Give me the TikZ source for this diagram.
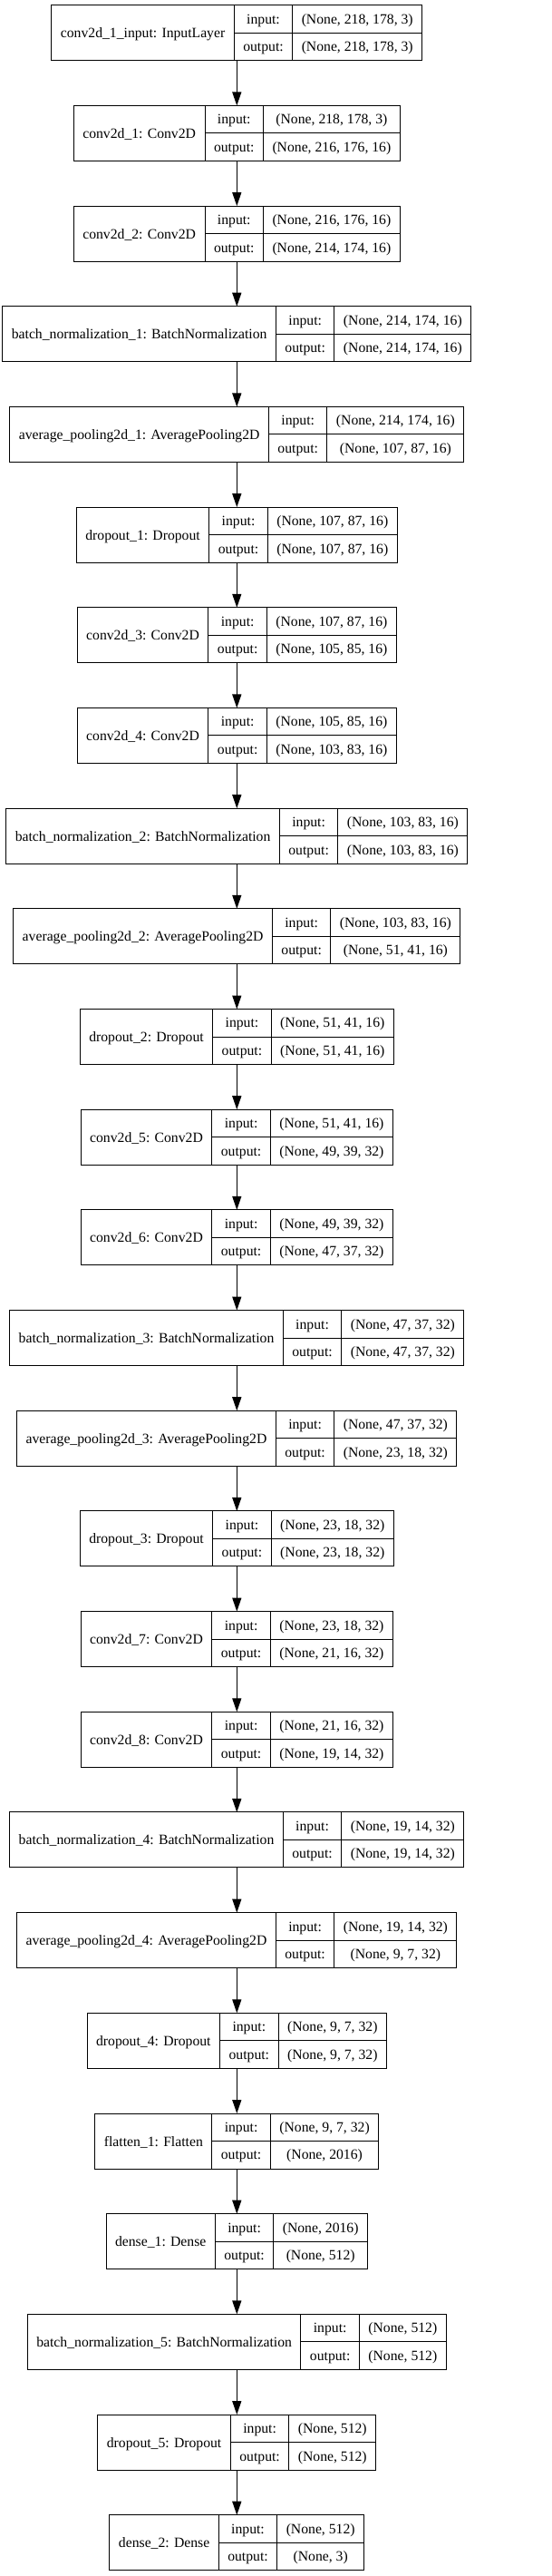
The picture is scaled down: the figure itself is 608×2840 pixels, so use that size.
\documentclass[tikz,border=0pt]{standalone}
\usepackage{fontspec}
\setmainfont{Liberation Serif}
\usetikzlibrary{arrows.meta}
\newdimen\LWa \newdimen\LWb \newdimen\LWc \newdimen\LWt \newdimen\LWs
\font\LRaw="Liberation Serif" at 15.7pt
\newcommand\lfont{\fontsize{15.7}{18}\selectfont}
\tikzset{
  layerbox/.style={draw=black, line width=1pt, inner sep=0pt, outer sep=0pt, rectangle},
  cellline/.style={draw=black, line width=1pt},
  lbl/.style={font=\lfont, inner sep=0pt, anchor=base},
  flow/.style={draw=black, line width=1.3pt, -{Triangle[length=15pt,width=10pt]}},
}
\newcommand\layer[5]{%
  \setbox0\hbox{\LRaw #3}\global\LWa=\wd0 \global\advance\LWa by 20pt
  \setbox0\hbox{\LRaw output:}\global\LWb=\wd0 \global\advance\LWb by 20pt
  \setbox0\hbox{\LRaw #4}\global\LWc=\wd0
  \setbox0\hbox{\LRaw #5}\global\LWt=\wd0
  \ifdim\LWt>\LWc \global\LWc=\LWt\fi \global\advance\LWc by 20pt
  \global\LWs=\dimexpr\LWa+\LWb+\LWc\relax
  \pgfmathsetmacro\Lym{-(36.2+110.68*#2)}%
  \pgfmathsetmacro\Lyt{\Lym+30.5}%
  \pgfmathsetmacro\Lyb{\Lym-30.5}%
  \pgfmathsetmacro\Lwtot{\the\LWs}%
  \pgfmathsetmacro\Lxl{261.3-\Lwtot/2}%
  \pgfmathsetmacro\Lxa{\Lxl+\the\LWa}%
  \pgfmathsetmacro\Lxb{\Lxa+\the\LWb}%
  \pgfmathsetmacro\Lxr{\Lxl+\Lwtot}%
  \node[layerbox, minimum width=\Lwtot pt, minimum height=61pt] (#1) at (261.3,\Lym) {};
  \draw[cellline] (\Lxa,\Lyt) -- (\Lxa,\Lyb);
  \draw[cellline] (\Lxb,\Lyt) -- (\Lxb,\Lyb);
  \draw[cellline] (\Lxa,\Lym) -- (\Lxr,\Lym);
  \node[lbl] (#1-l) at ({(\Lxl+\Lxa)/2},\Lym-5.5) {#3};
  \node[lbl] (#1-i) at ({(\Lxa+\Lxb)/2},\Lym+15.25-5.2) {input:};
  \node[lbl] (#1-o) at ({(\Lxa+\Lxb)/2},\Lym-15.25-5.2) {output:};
  \node[lbl] (#1-iv) at ({(\Lxb+\Lxr)/2},\Lym+15.25-5.2) {#4};
  \node[lbl] (#1-ov) at ({(\Lxb+\Lxr)/2},\Lym-15.25-5.2) {#5};
}
\begin{document}
\begin{tikzpicture}[x=1pt,y=1pt]
\fill[white] (0,0) rectangle (608,-2840);
\useasboundingbox (0,0) rectangle (608,-2840);
\layer{n1}{0}{conv2d\_1\_input: InputLayer}{(None, 218, 178, 3)}{(None, 218, 178, 3)}
\layer{n2}{1}{conv2d\_1: Conv2D}{(None, 218, 178, 3)}{(None, 216, 176, 16)}
\layer{n3}{2}{conv2d\_2: Conv2D}{(None, 216, 176, 16)}{(None, 214, 174, 16)}
\layer{n4}{3}{batch\_normalization\_1: BatchNormalization}{(None, 214, 174, 16)}{(None, 214, 174, 16)}
\layer{n5}{4}{average\_pooling2d\_1: AveragePooling2D}{(None, 214, 174, 16)}{(None, 107, 87, 16)}
\layer{n6}{5}{dropout\_1: Dropout}{(None, 107, 87, 16)}{(None, 107, 87, 16)}
\layer{n7}{6}{conv2d\_3: Conv2D}{(None, 107, 87, 16)}{(None, 105, 85, 16)}
\layer{n8}{7}{conv2d\_4: Conv2D}{(None, 105, 85, 16)}{(None, 103, 83, 16)}
\layer{n9}{8}{batch\_normalization\_2: BatchNormalization}{(None, 103, 83, 16)}{(None, 103, 83, 16)}
\layer{n10}{9}{average\_pooling2d\_2: AveragePooling2D}{(None, 103, 83, 16)}{(None, 51, 41, 16)}
\layer{n11}{10}{dropout\_2: Dropout}{(None, 51, 41, 16)}{(None, 51, 41, 16)}
\layer{n12}{11}{conv2d\_5: Conv2D}{(None, 51, 41, 16)}{(None, 49, 39, 32)}
\layer{n13}{12}{conv2d\_6: Conv2D}{(None, 49, 39, 32)}{(None, 47, 37, 32)}
\layer{n14}{13}{batch\_normalization\_3: BatchNormalization}{(None, 47, 37, 32)}{(None, 47, 37, 32)}
\layer{n15}{14}{average\_pooling2d\_3: AveragePooling2D}{(None, 47, 37, 32)}{(None, 23, 18, 32)}
\layer{n16}{15}{dropout\_3: Dropout}{(None, 23, 18, 32)}{(None, 23, 18, 32)}
\layer{n17}{16}{conv2d\_7: Conv2D}{(None, 23, 18, 32)}{(None, 21, 16, 32)}
\layer{n18}{17}{conv2d\_8: Conv2D}{(None, 21, 16, 32)}{(None, 19, 14, 32)}
\layer{n19}{18}{batch\_normalization\_4: BatchNormalization}{(None, 19, 14, 32)}{(None, 19, 14, 32)}
\layer{n20}{19}{average\_pooling2d\_4: AveragePooling2D}{(None, 19, 14, 32)}{(None, 9, 7, 32)}
\layer{n21}{20}{dropout\_4: Dropout}{(None, 9, 7, 32)}{(None, 9, 7, 32)}
\layer{n22}{21}{flatten\_1: Flatten}{(None, 9, 7, 32)}{(None, 2016)}
\layer{n23}{22}{dense\_1: Dense}{(None, 2016)}{(None, 512)}
\layer{n24}{23}{batch\_normalization\_5: BatchNormalization}{(None, 512)}{(None, 512)}
\layer{n25}{24}{dropout\_5: Dropout}{(None, 512)}{(None, 512)}
\layer{n26}{25}{dense\_2: Dense}{(None, 512)}{(None, 3)}
\foreach \i [evaluate=\i as \j using int(\i+1)] in {1,...,25}
  \draw[flow] (n\i.south) -- (n\j.north);
\end{tikzpicture}
\end{document}
